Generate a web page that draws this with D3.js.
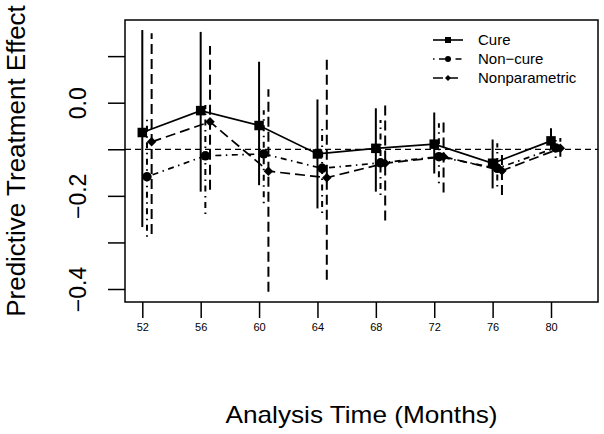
<!DOCTYPE html>
<html>
<head>
<meta charset="utf-8">
<script src="https://cdn.jsdelivr.net/npm/d3@7"></script>
<style>
  body { margin: 0; background: #fff; }
  svg { display: block; font-family: "Liberation Sans", Arial, sans-serif; }
</style>
</head>
<body>
<svg id="chart" width="604" height="434"></svg>
<script>
const months = [52, 56, 60, 64, 68, 72, 76, 80]

const cure = [-0.064, -0.017, -0.049, -0.110, -0.098, -0.089, -0.130, -0.082]
const cureLo = [-0.267, -0.191, -0.177, -0.227, -0.191, -0.152, -0.184, -0.100]
const cureHi = [0.156, 0.152, 0.088, 0.007, -0.012, -0.021, -0.079, -0.055]

const nonCure = [-0.159, -0.114, -0.110, -0.141, -0.129, -0.116, -0.141, -0.097]
const nonCureLo = [-0.288, -0.239, -0.216, -0.237, -0.198, -0.173, -0.180, -0.119]
const nonCureHi = [-0.030, -0.005, -0.016, -0.055, -0.037, -0.044, -0.087, -0.076]

const nonpar = [-0.084, -0.041, -0.147, -0.161, -0.130, -0.116, -0.146, -0.098]
const nonparLo = [-0.282, -0.187, -0.406, -0.380, -0.253, -0.193, -0.198, -0.116]
const nonparHi = [0.149, 0.122, 0.029, 0.100, -0.003, -0.034, -0.100, -0.076]

const yTicks = [-0.4, -0.3, -0.2, -0.1, 0.0, 0.1]
const yLabels = [-0.4, -0.2, 0.0]
const refLine = -0.1

const seriesNames = ['Cure', 'Non\u2212cure', 'Nonparametric']

const svg = d3.select('#chart')
const box = { left: 125, top: 20, right: 598, bottom: 302 }

const x = d3.scaleLinear().domain([52, 80]).range([142.3, 551])
const y = d3.scaleLinear().domain([0, -0.4]).range([102.7, 289])

// each series is nudged to the right a bit so the bars don't overlap
const series = [
  { name: seriesNames[0], est: cure, lo: cureLo, hi: cureHi, shift: 0, dash: null, shape: 'square' },
  { name: seriesNames[1], est: nonCure, lo: nonCureLo, hi: nonCureHi, shift: 0.32, dash: '1.5,4.5,6,4.5', shape: 'circle' },
  { name: seriesNames[2], est: nonpar, lo: nonparLo, hi: nonparHi, shift: 0.64, dash: '10,5', shape: 'diamond' }
]

function marker (sel, shape, s) {
  if (shape === 'square') {
    sel.append('rect').attr('x', -s / 2).attr('y', -s / 2).attr('width', s).attr('height', s)
  } else if (shape === 'circle') {
    sel.append('circle').attr('r', s / 2)
  } else {
    const r = s * 0.5
    sel.append('path').attr('d', `M0,${-r}L${r},0L0,${r}L${-r},0Z`)
  }
}

// reference line
svg.append('line')
  .attr('x1', box.left).attr('x2', box.right)
  .attr('y1', y(refLine)).attr('y2', y(refLine))
  .attr('stroke', '#000').attr('stroke-width', 1.3).attr('stroke-dasharray', '6,4')

series.forEach(s => {
  const g = svg.append('g')
  const pts = months.map((m, i) => [x(m + s.shift), y(s.est[i])])
  g.selectAll('line.err').data(months).enter().append('line')
    .attr('x1', (m) => x(m + s.shift)).attr('x2', (m) => x(m + s.shift))
    .attr('y1', (m, i) => y(s.lo[i])).attr('y2', (m, i) => y(s.hi[i]))
    .attr('stroke', '#000').attr('stroke-width', 2)
    .attr('stroke-dasharray', s.dash)
  g.append('path').attr('d', d3.line()(pts))
    .attr('fill', 'none').attr('stroke', '#000').attr('stroke-width', 1.7)
    .attr('stroke-dasharray', s.dash)
  pts.forEach(p => {
    const mg = g.append('g').attr('transform', `translate(${p[0]},${p[1]})`).attr('fill', '#000')
    marker(mg, s.shape, 9.5)
  })
})

// frame
svg.append('rect')
  .attr('x', box.left).attr('y', box.top)
  .attr('width', box.right - box.left).attr('height', box.bottom - box.top)
  .attr('fill', 'none').attr('stroke', '#000').attr('stroke-width', 1.5)

// axes
const xAxis = d3.axisBottom(x).tickValues(months).tickSize(16).tickPadding(4).tickFormat(d3.format('d'))
const xg = svg.append('g').attr('transform', `translate(0,${box.bottom})`).call(xAxis)
xg.select('.domain').remove()
xg.selectAll('.tick line').attr('stroke-width', 1.5)
xg.selectAll('.tick text').attr('font-size', 11).attr('font-family', '"Liberation Sans", Arial, sans-serif').attr('dy', '0.8em')

const yAxis = d3.axisLeft(y).tickValues(yTicks).tickSize(17).tickPadding(8)
  .tickFormat(d => yLabels.some(v => Math.abs(v - d) < 1e-9) ? d3.format('.1f')(d).replace('-', '\u2212') : '')
const yg = svg.append('g').attr('transform', `translate(${box.left},0)`).call(yAxis)
yg.select('.domain').remove()
yg.selectAll('.tick line').attr('stroke-width', 1.5)
yg.selectAll('.tick text')
  .attr('font-size', 23).attr('font-family', '"Liberation Sans", Arial, sans-serif')
  .attr('text-anchor', 'middle').attr('x', 0).attr('y', 0)
  .attr('transform', 'translate(-47,0) rotate(-90)').attr('dy', '0.35em')

// titles
svg.append('text').attr('x', (box.left + box.right) / 2).attr('y', 423)
  .attr('text-anchor', 'middle').attr('font-size', 24)
  .attr('textLength', 272).attr('lengthAdjust', 'spacingAndGlyphs')
  .text('Analysis Time (Months)')
svg.append('text').attr('transform', `translate(25,${(box.top + box.bottom) / 2}) rotate(-90)`)
  .attr('text-anchor', 'middle').attr('font-size', 26)
  .text('Predictive Treatment Effect')

// legend
const lg = svg.append('g').attr('transform', 'translate(433,40)')
series.forEach((s, i) => {
  const row = lg.append('g').attr('transform', `translate(0,${i * 19})`)
  row.append('line').attr('x1', 0).attr('x2', 30).attr('stroke', '#000').attr('stroke-width', 1.6)
    .attr('stroke-dasharray', s.dash)
  const mg = row.append('g').attr('transform', 'translate(15,0)')
  marker(mg, s.shape, 6)
  row.append('text').attr('x', 45).attr('dy', '0.35em').attr('font-size', 15).text(s.name)
})
</script>
</body>
</html>
